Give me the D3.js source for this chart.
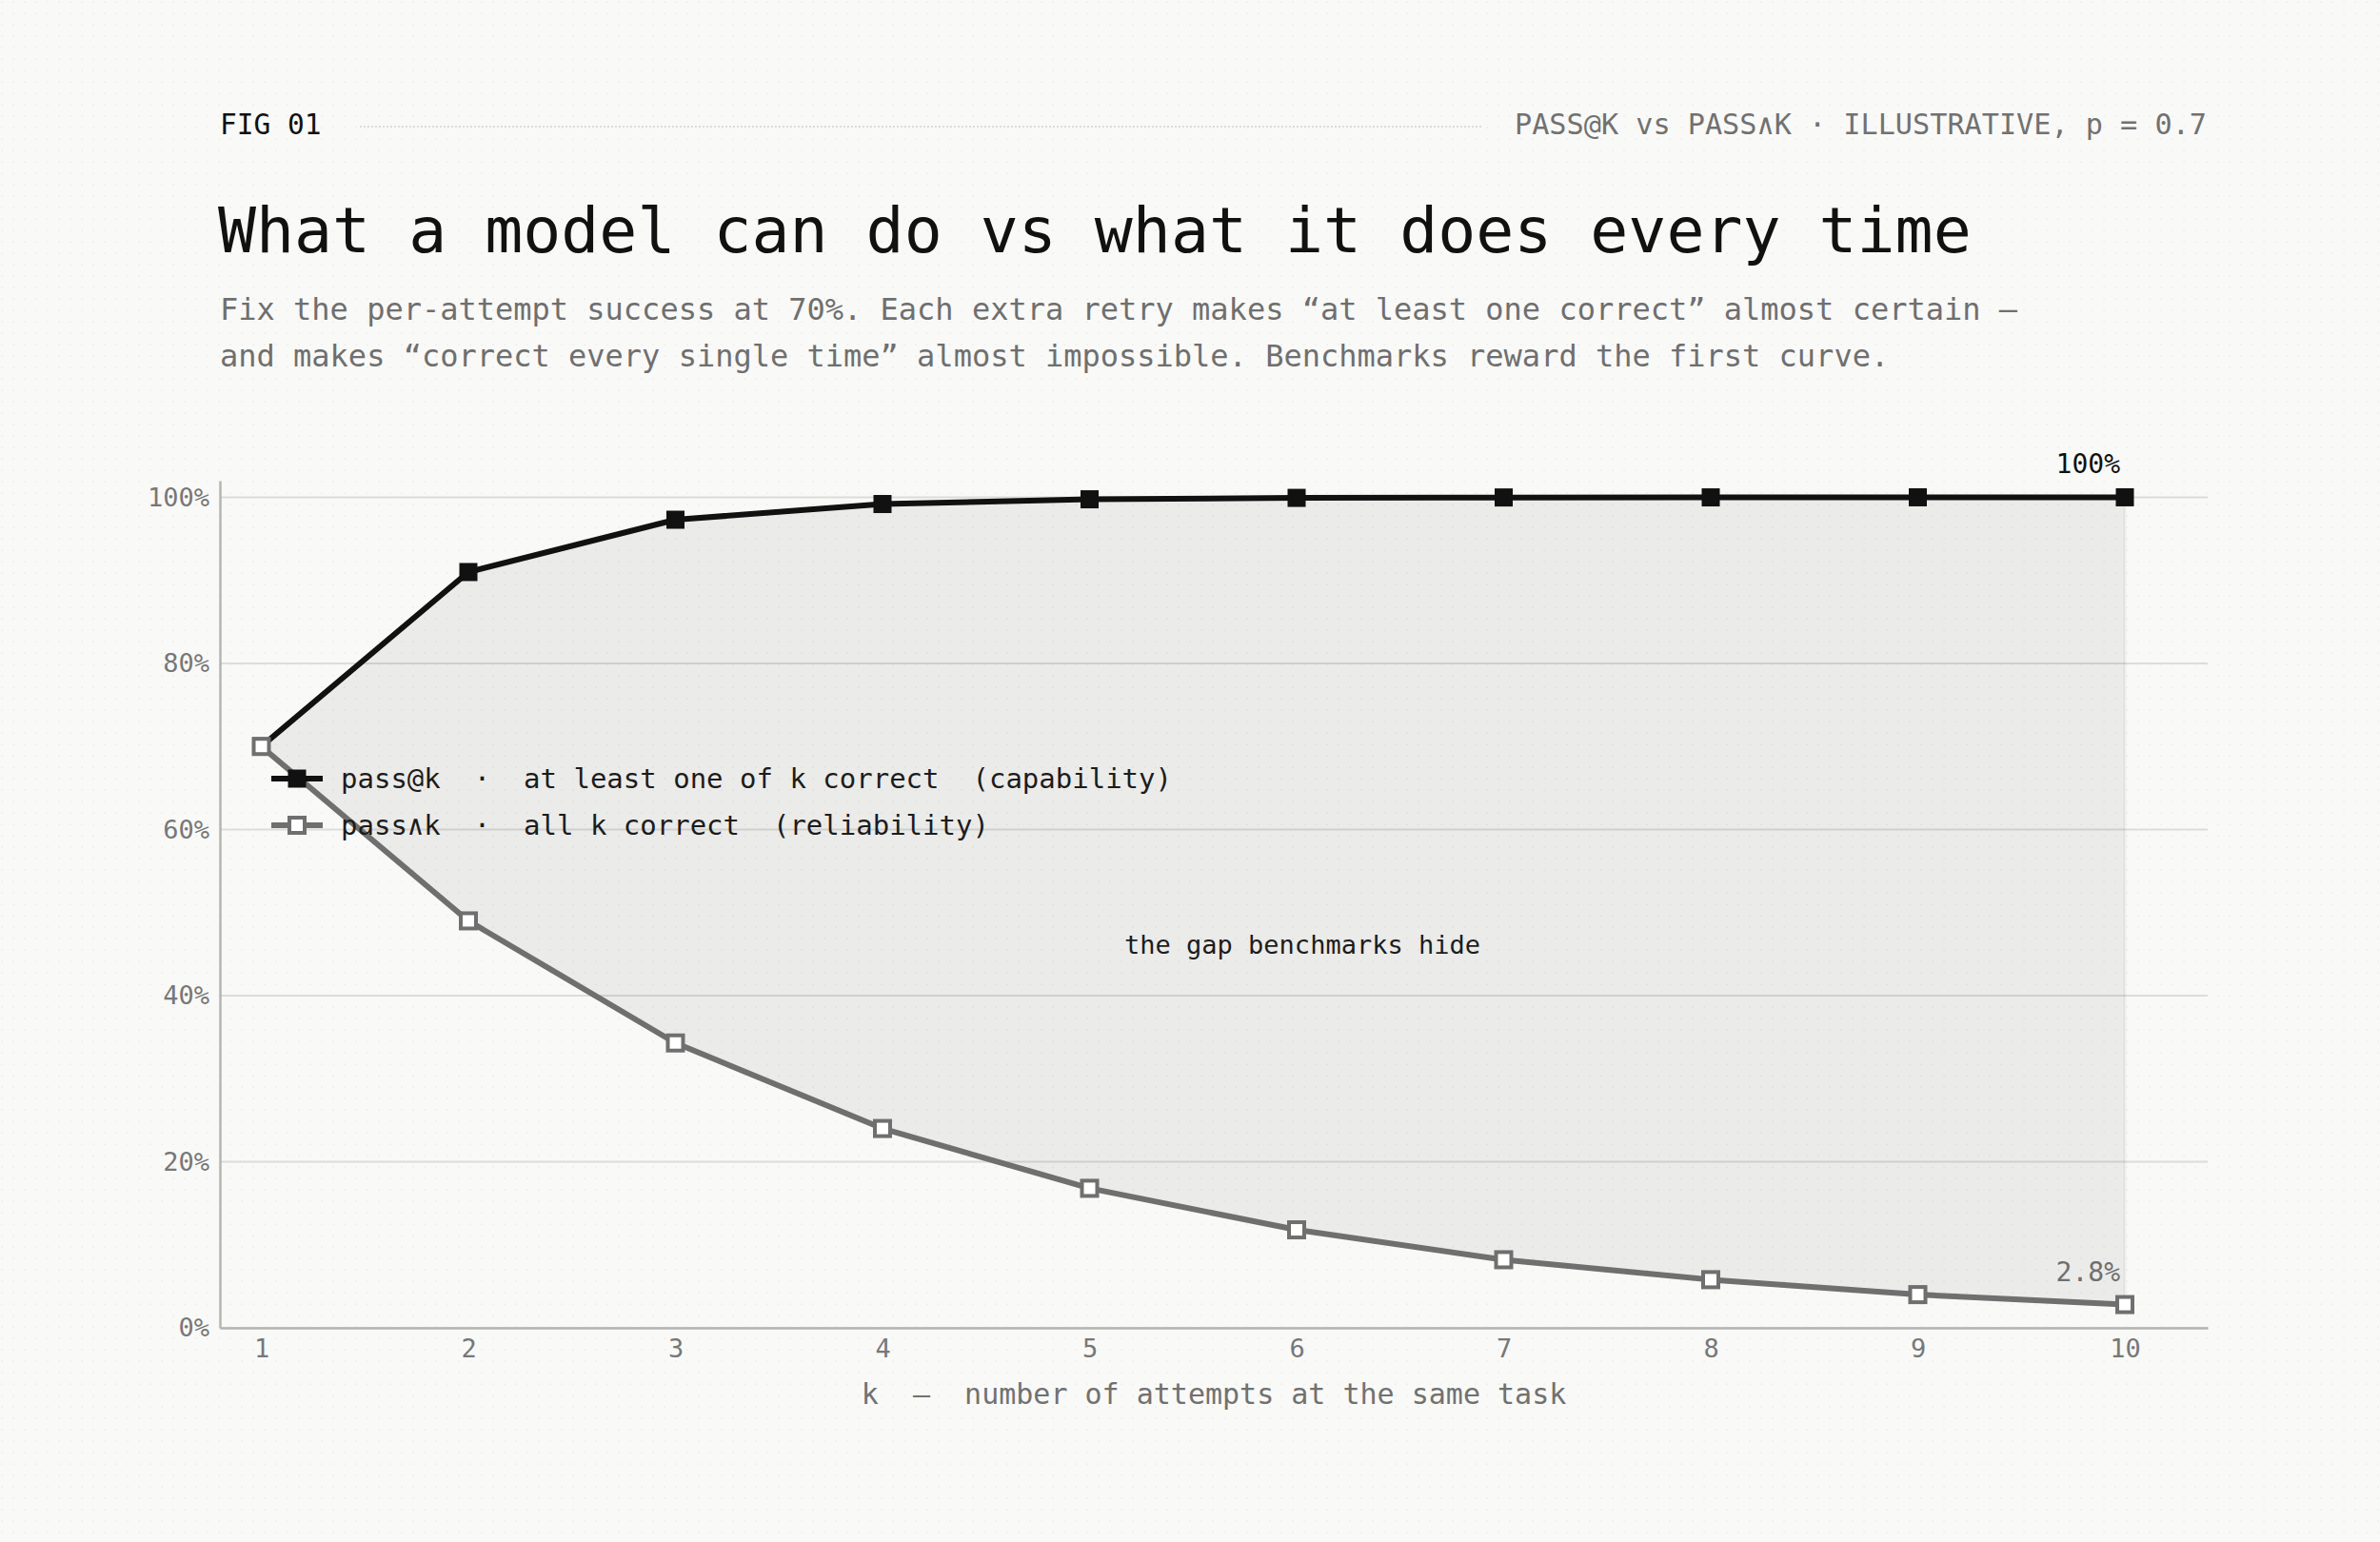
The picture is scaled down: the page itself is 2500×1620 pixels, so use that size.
<!DOCTYPE html>
<html>
  <head>
    <meta charset="utf-8">
    <title>pass@k vs pass^k</title>
    <script src="https://d3js.org/d3.v7.min.js"></script>
  </head>

  <style>
    body {
      margin: 0;
      background-color: #f9f9f7;
    }
    #chart svg {
      display: block;
      font-family: 'DejaVu Sans Mono', 'Liberation Mono', monospace;
    }
    #chart svg text {
      white-space: pre;
    }
  </style>

  <body>
    <div id="chart"></div>
    <script>

    // values, p = 0.7
    var ks = [1, 2, 3, 4, 5, 6, 7, 8, 9, 10];
    var passAtK = [0.70, 0.91, 0.973, 0.9919, 0.9976, 0.9993, 0.9998, 0.9999, 1.0, 1.0];
    var passHatK = [0.70, 0.49, 0.343, 0.240, 0.168, 0.118, 0.082, 0.058, 0.040, 0.028];
    var yTicks = [0, 0.2, 0.4, 0.6, 0.8, 1.0];
    var endLabels = ['100%', '2.8%'];

    var width = 2500;
    var height = 1620;
    var margin = { top: 505, right: 181, bottom: 225, left: 231 };

    var svg = d3.select('#chart').append('svg')
      .attr('width', width)
      .attr('height', height);

    // dotted paper background
    var defs = svg.append('defs');
    var pat = defs.append('pattern')
      .attr('id', 'dots')
      .attr('width', 12)
      .attr('height', 12)
      .attr('patternUnits', 'userSpaceOnUse');
    pat.append('rect')
      .attr('x', 1.5).attr('y', 1.5)
      .attr('width', 1.2).attr('height', 1.2)
      .attr('fill', '#e2e2e0');

    svg.append('rect')
      .attr('width', width).attr('height', height)
      .attr('fill', '#f9f9f7');
    svg.append('rect')
      .attr('width', width).attr('height', height)
      .attr('fill', 'url(#dots)');

    // header
    svg.append('text')
      .attr('x', 231).attr('y', 141)
      .style('font-size', '29.5px')
      .style('font-weight', 500)
      .attr('fill', '#111')
      .text('FIG 01');

    svg.append('line')
      .attr('x1', 378).attr('x2', 1558)
      .attr('y1', 133).attr('y2', 133)
      .attr('stroke', '#d4d4d2')
      .attr('stroke-width', 1.5)
      .attr('stroke-dasharray', '2,2');

    svg.append('text')
      .attr('x', 2318).attr('y', 141)
      .attr('text-anchor', 'end')
      .style('font-size', '30.2px')
      .attr('fill', '#717171')
      .text('PASS@K vs PASS\u2227K \u00b7 ILLUSTRATIVE, p = 0.7');

    svg.append('text')
      .attr('x', 229).attr('y', 265)
      .style('font-size', '66.5px')
      .style('font-weight', 500)
      .attr('fill', '#111')
      .text('What a model can do vs what it does every time');

    var sub = [
      'Fix the per-attempt success at 70%. Each extra retry makes \u201cat least one correct\u201d almost certain \u2014',
      'and makes \u201ccorrect every single time\u201d almost impossible. Benchmarks reward the first curve.'
    ];
    svg.append('g').selectAll('text')
      .data(sub)
      .enter().append('text')
      .attr('x', 231)
      .attr('y', function(d, i){ return 336 + i * 49; })
      .style('font-size', '32px')
      .attr('fill', '#6f6f6f')
      .text(function(d){ return d; });

    // scales
    var x = d3.scaleLinear()
      .domain([0.8, 10.4])
      .range([margin.left, width - margin.right]);

    var y = d3.scaleLinear()
      .domain([0, 1.02])
      .range([height - margin.bottom, margin.top]);

    // grid
    svg.append('g').selectAll('line')
      .data(yTicks)
      .enter().append('line')
      .attr('x1', margin.left)
      .attr('x2', width - margin.right)
      .attr('y1', function(d){ return y(d); })
      .attr('y2', function(d){ return y(d); })
      .attr('stroke', '#dcdcda')
      .attr('stroke-width', 2);

    // gap between the two curves
    var rows = ks.map(function(k, i){
      return { k: k, hi: passAtK[i], lo: passHatK[i] };
    });

    var gap = d3.area()
      .x(function(d){ return x(d.k); })
      .y0(function(d){ return y(d.lo); })
      .y1(function(d){ return y(d.hi); });

    svg.append('path')
      .datum(rows)
      .attr('d', gap)
      .attr('fill', 'rgba(0,0,0,0.055)');

    svg.append('line')
      .attr('x1', x(10)).attr('x2', x(10))
      .attr('y1', y(passAtK[9])).attr('y2', y(passHatK[9]))
      .attr('stroke', 'rgba(0,0,0,0.04)')
      .attr('stroke-width', 3);

    // axes
    var yAxis = d3.axisLeft(y)
      .tickValues(yTicks)
      .tickSize(0)
      .tickPadding(11)
      .tickFormat(d3.format('.0%'));

    var yGuide = svg.append('g')
      .attr('transform', 'translate(' + margin.left + ',0)')
      .call(yAxis);
    yGuide.select('.domain')
      .attr('stroke', '#b4b4b2')
      .attr('stroke-width', 2.5);
    yGuide.selectAll('text')
      .style('font-size', '27px')
      .style('font-family', "'DejaVu Sans Mono', monospace")
      .attr('fill', '#777');

    var xAxis = d3.axisBottom(x)
      .tickValues(ks)
      .tickSize(0)
      .tickPadding(12)
      .tickFormat(d3.format('d'));

    var xGuide = svg.append('g')
      .attr('transform', 'translate(0,' + (height - margin.bottom) + ')')
      .call(xAxis);
    xGuide.select('.domain')
      .attr('stroke', '#b4b4b2')
      .attr('stroke-width', 2.5);
    xGuide.selectAll('text')
      .style('font-size', '27px')
      .style('font-family', "'DejaVu Sans Mono', monospace")
      .attr('fill', '#777');

    svg.append('text')
      .attr('x', (margin.left + width - margin.right) / 2)
      .attr('y', 1475)
      .attr('text-anchor', 'middle')
      .style('font-size', '30px')
      .attr('fill', '#717171')
      .text('k  \u2014  number of attempts at the same task');

    // lines
    var line = d3.line()
      .x(function(d){ return x(d.k); })
      .y(function(d){ return y(d.v); });

    var hatData = ks.map(function(k, i){ return { k: k, v: passHatK[i] }; });
    var atData = ks.map(function(k, i){ return { k: k, v: passAtK[i] }; });

    svg.append('path')
      .datum(hatData)
      .attr('d', line)
      .attr('fill', 'none')
      .attr('stroke', '#6f6f6f')
      .attr('stroke-width', 6)
      .attr('stroke-linejoin', 'round');

    svg.append('path')
      .datum(atData)
      .attr('d', line)
      .attr('fill', 'none')
      .attr('stroke', '#111')
      .attr('stroke-width', 6)
      .attr('stroke-linejoin', 'round');

    var sq = 19;

    svg.append('g').selectAll('rect')
      .data(atData)
      .enter().append('rect')
      .attr('x', function(d){ return x(d.k) - sq / 2; })
      .attr('y', function(d){ return y(d.v) - sq / 2; })
      .attr('width', sq).attr('height', sq)
      .attr('fill', '#111');

    svg.append('g').selectAll('rect')
      .data(hatData)
      .enter().append('rect')
      .attr('x', function(d){ return x(d.k) - 8; })
      .attr('y', function(d){ return y(d.v) - 8; })
      .attr('width', 16).attr('height', 16)
      .attr('fill', '#fff')
      .attr('stroke', '#6f6f6f')
      .attr('stroke-width', 4);

    // end labels
    svg.append('text')
      .attr('x', x(10) - 5)
      .attr('y', y(passAtK[9]) - 25)
      .attr('text-anchor', 'end')
      .style('font-size', '28px')
      .style('font-weight', 500)
      .attr('fill', '#111')
      .text(endLabels[0]);

    svg.append('text')
      .attr('x', x(10) - 5)
      .attr('y', y(passHatK[9]) - 25)
      .attr('text-anchor', 'end')
      .style('font-size', '28px')
      .attr('fill', '#6f6f6f')
      .text(endLabels[1]);

    // annotation
    svg.append('text')
      .attr('x', x(6) + 6)
      .attr('y', y(0.45))
      .attr('text-anchor', 'middle')
      .style('font-size', '27px')
      .attr('fill', '#1c1c1c')
      .text('the gap benchmarks hide');

    // legend
    var legend = [
      { label: 'pass@k  \u00b7  at least one of k correct  (capability)', color: '#111', fill: '#111' },
      { label: 'pass\u2227k  \u00b7  all k correct  (reliability)', color: '#6f6f6f', fill: '#fff' }
    ];

    var leg = svg.append('g').selectAll('g')
      .data(legend)
      .enter().append('g')
      .attr('transform', function(d, i){ return 'translate(285,' + (818 + i * 49) + ')'; });

    leg.append('line')
      .attr('x1', 0).attr('x2', 54)
      .attr('stroke', function(d){ return d.color; })
      .attr('stroke-width', 6);

    leg.append('rect')
      .attr('x', function(d, i){ return i ? 19 : 17.5; })
      .attr('y', function(d, i){ return i ? -8 : -9.5; })
      .attr('width', function(d, i){ return i ? 16 : 19; })
      .attr('height', function(d, i){ return i ? 16 : 19; })
      .attr('fill', function(d){ return d.fill; })
      .attr('stroke', function(d, i){ return i ? d.color : 'none'; })
      .attr('stroke-width', 4);

    leg.append('text')
      .attr('x', 73)
      .attr('y', 10)
      .style('font-size', '29px')
      .attr('fill', '#1c1c1c')
      .text(function(d){ return d.label; });

    </script>
  </body>
</html>
